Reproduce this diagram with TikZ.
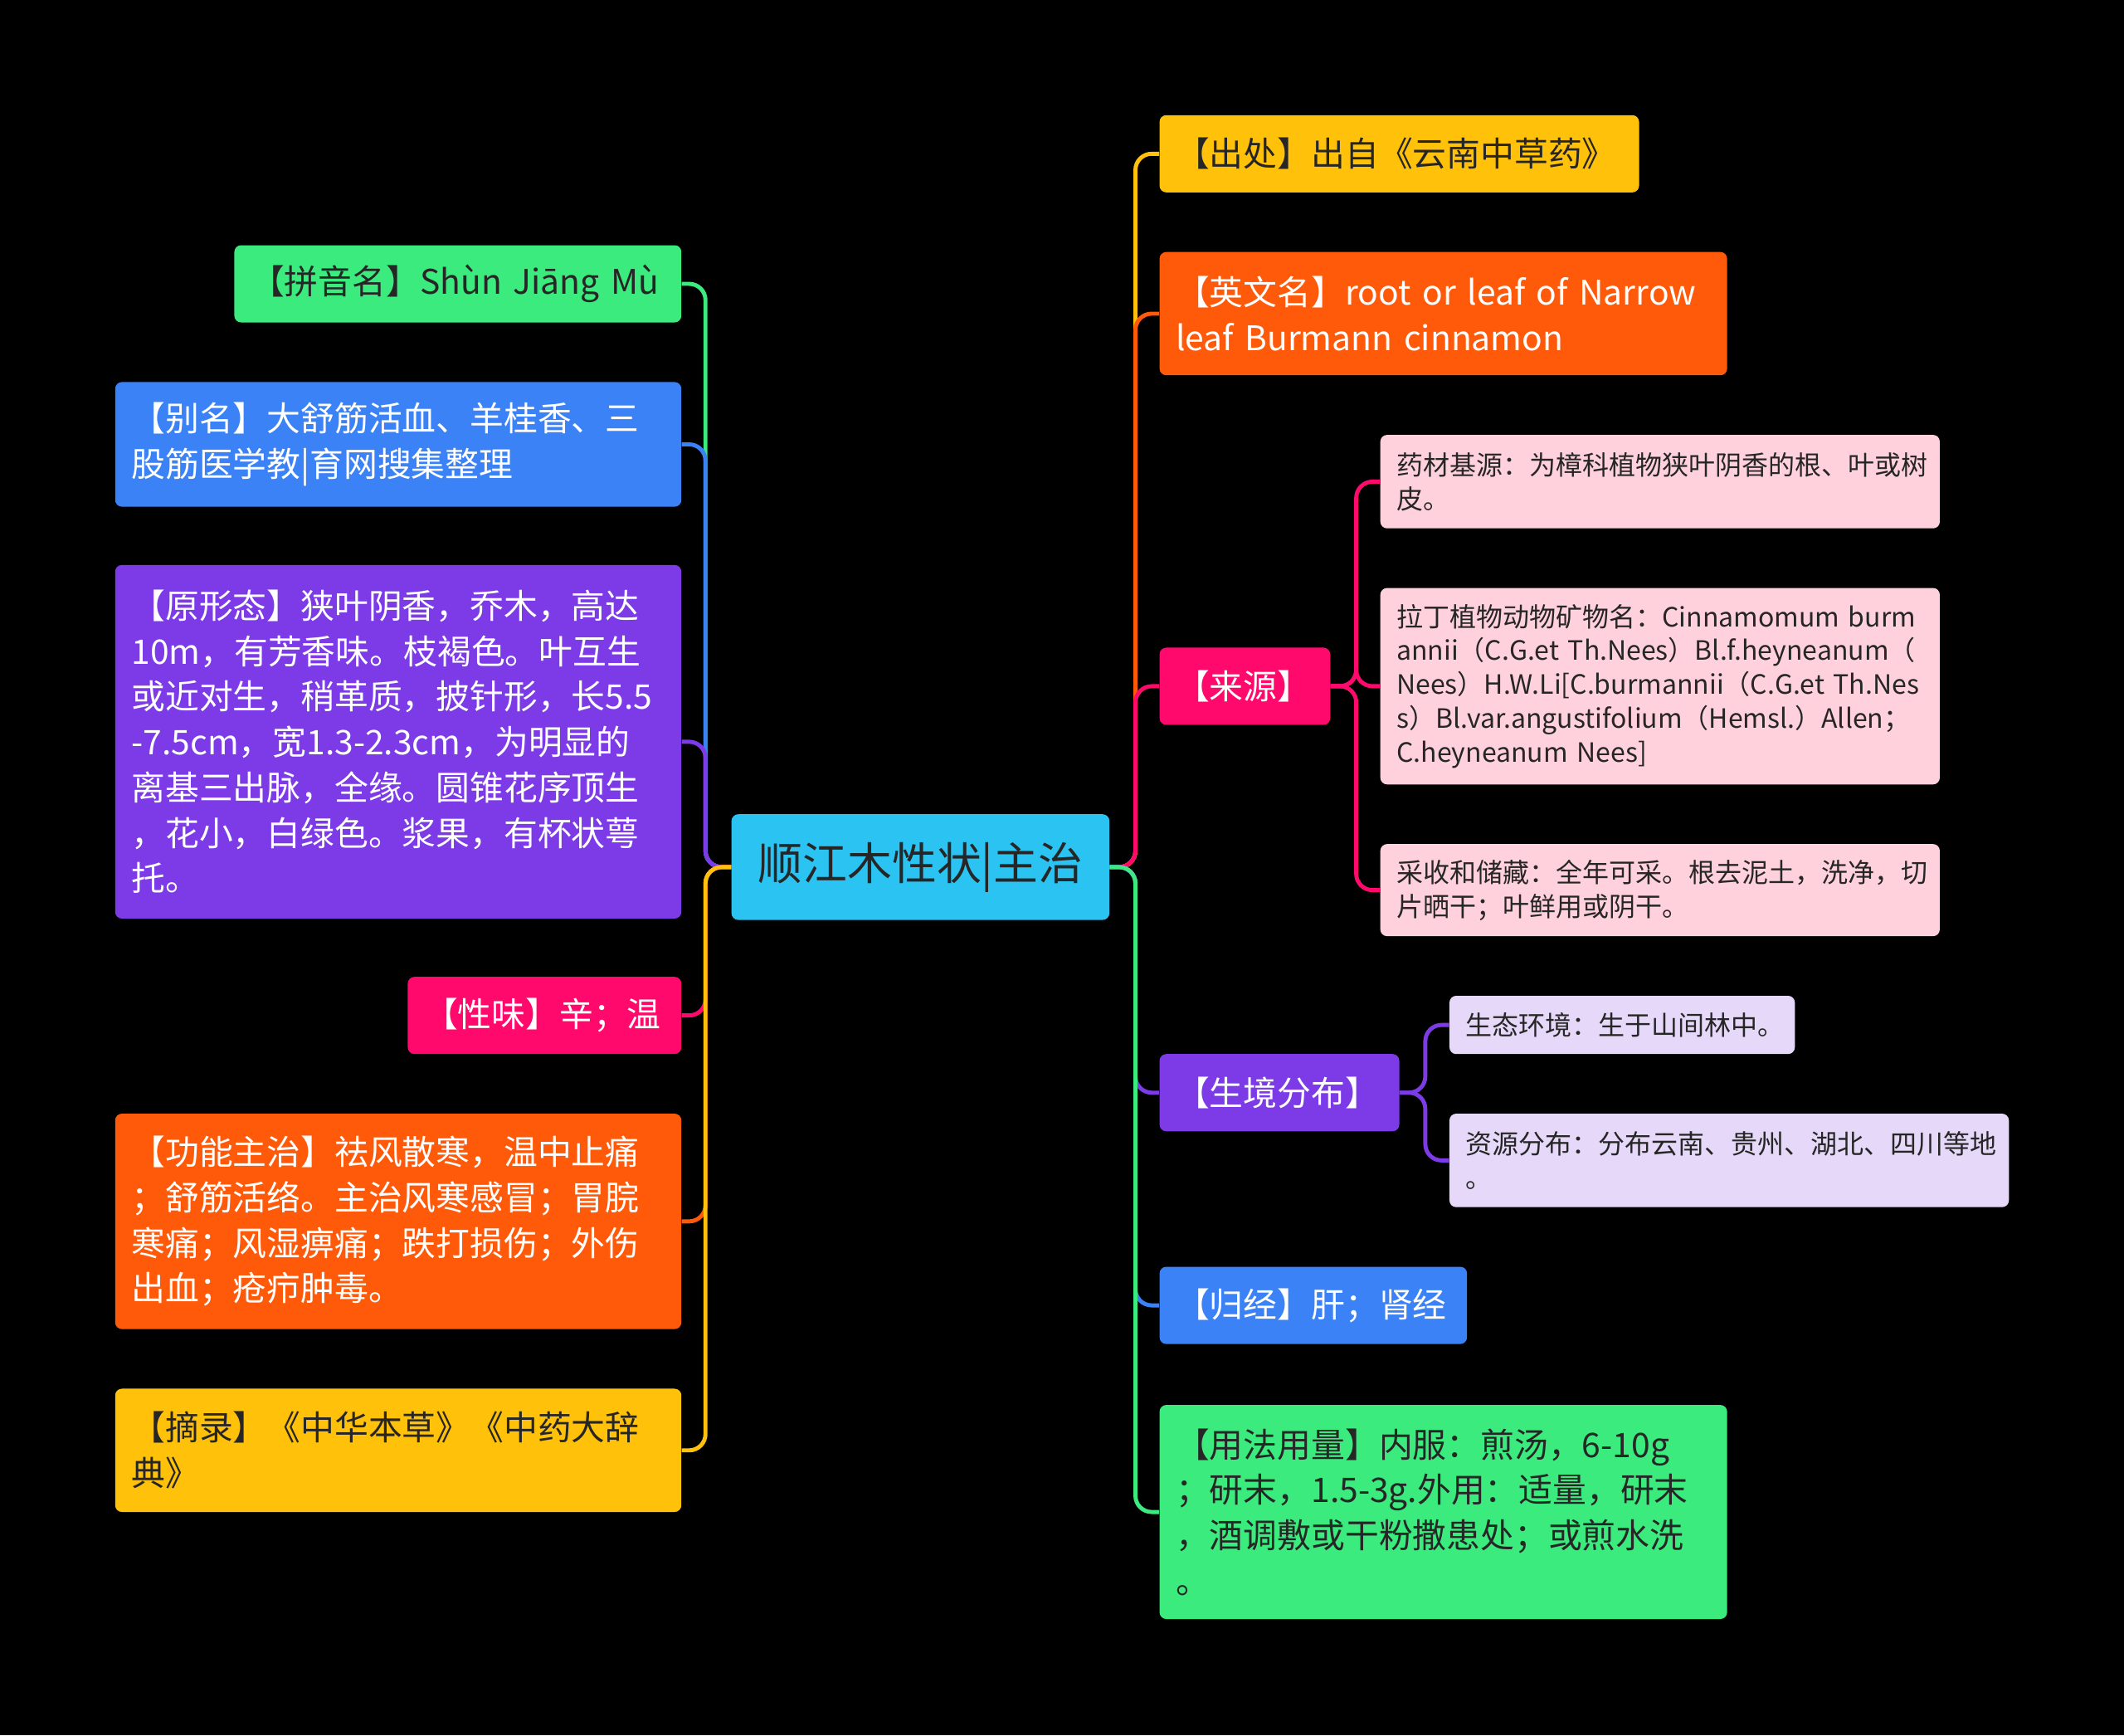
\documentclass[tikz,border=0pt]{standalone}
\usepackage{fontspec}
\setmainfont{Noto Sans CJK SC}
\definecolor{cCyan}{HTML}{2BC4F2}
\definecolor{cGreen}{HTML}{3BEB7E}
\definecolor{cBlue}{HTML}{3B82F6}
\definecolor{cPurple}{HTML}{7D3BE8}
\definecolor{cPink}{HTML}{FF0A6C}
\definecolor{cOrange}{HTML}{FF5A0A}
\definecolor{cAmber}{HTML}{FFC10A}
\definecolor{cLPink}{HTML}{FFD1DC}
\definecolor{cLav}{HTML}{E6D8F8}
\newcommand{\bx}[8]{%
 \pgfmathsetmacro{\bw}{#4-#2}\pgfmathsetmacro{\bh}{#5-#3}\pgfmathsetmacro{\tw}{#4-#2-24}%
 \node[box,fill=#6,text=#7,minimum width=\bw pt,minimum height=\bh pt,text width=\tw pt] (#1) at ({(#2+#4)/2},{-(#3+#5)/2}) {#8};}
\begin{document}
\begin{tikzpicture}[x=1pt,y=1pt,
 box/.style={rounded corners=5pt,inner xsep=12pt,inner ysep=0pt,align=left,font=\fontsize{25}{33.5}\selectfont},
 sm/.style={font=\fontsize{19.6}{25}\selectfont},
 ln/.style={line width=3pt,rounded corners=12pt}]
\fill[black] (0,0) rectangle (1568,-1281);
\useasboundingbox (0,0) rectangle (1568,-1281);
% center
\node[rounded corners=5pt,fill=cCyan,minimum width=279pt,minimum height=78pt,font=\fontsize{33}{40}\selectfont,text=black!85] (c) at (679.5,-640) {顺江木性状|主治};
% left
\bx{a1}{173}{181}{503}{238}{cGreen}{black!85}{【拼音名】Shùn Jiāng Mù}
\bx{a2}{85}{282}{503}{374}{cBlue}{white}{【别名】大舒筋活血、羊桂香、三\\股筋医学教|育网搜集整理}
\bx{a3}{85}{417}{503}{678}{cPurple}{white}{【原形态】狭叶阴香，乔木，高达\\10m，有芳香味。枝褐色。叶互生\\或近对生，稍革质，披针形，长5.5\\-7.5cm，宽1.3-2.3cm，为明显的\\离基三出脉，全缘。圆锥花序顶生\\，花小，白绿色。浆果，有杯状萼\\托。}
\bx{a4}{301}{721}{503}{778}{cPink}{white}{【性味】辛；温}
\bx{a5}{85}{822}{503}{981}{cOrange}{white}{【功能主治】祛风散寒，温中止痛\\；舒筋活络。主治风寒感冒；胃脘\\寒痛；风湿痹痛；跌打损伤；外伤\\出血；疮疖肿毒。}
\bx{a6}{85}{1025}{503}{1116}{cAmber}{black!85}{【摘录】《中华本草》《中药大辞\\典》}
% right
\bx{b1}{856}{85}{1210}{142}{cAmber}{black!85}{【出处】出自《云南中草药》}
\bx{b2}{856}{186}{1275}{277}{cOrange}{white}{【英文名】root or leaf of Narrow\\leaf Burmann cinnamon}
\bx{b3}{856}{478}{982}{535}{cPink}{white}{【来源】}
\bx{b4}{856}{778}{1033}{835}{cPurple}{white}{【生境分布】}
\bx{b5}{856}{935}{1083}{992}{cBlue}{white}{【归经】肝；肾经}
\bx{b6}{856}{1037}{1275}{1195}{cGreen}{black!85}{【用法用量】内服：煎汤，6-10g\\；研末，1.5-3g.外用：适量，研末\\，酒调敷或干粉撒患处；或煎水洗\\。}
% sub
\tikzset{box/.append style={sm}}
\bx{s1}{1019}{321}{1432}{390}{cLPink}{black!85}{药材基源：为樟科植物狭叶阴香的根、叶或树\\皮。}
\bx{s2}{1019}{434}{1432}{579}{cLPink}{black!85}{拉丁植物动物矿物名：Cinnamomum burm\\annii（C.G.et Th.Nees）Bl.f.heyneanum（\\Nees）H.W.Li[C.burmannii（C.G.et Th.Nes\\s）Bl.var.angustifolium（Hemsl.）Allen；\\C.heyneanum Nees]}
\bx{s3}{1019}{623}{1432}{691}{cLPink}{black!85}{采收和储藏：全年可采。根去泥土，洗净，切\\片晒干；叶鲜用或阴干。}
\bx{s4}{1070}{735}{1325}{778}{cLav}{black!85}{生态环境：生于山间林中。}
\bx{s5}{1070}{822}{1483}{891}{cLav}{black!85}{资源分布：分布云南、贵州、湖北、四川等地\\。}
% connectors
\foreach \n/\col in {a1/cGreen,a2/cBlue,a3/cPurple,a4/cPink,a5/cOrange,a6/cAmber}
 \draw[ln,\col] (c.west) -- ++(-19,0) |- (\n.east);
\foreach \n/\col in {b1/cAmber,b2/cOrange,b3/cPink,b4/cPurple,b5/cBlue,b6/cGreen}
 \draw[ln,\col] (c.east) -- ++(19,0) |- (\n.west);
\foreach \n in {s1,s2,s3} \draw[ln,cPink] (b3.east) -- ++(19,0) |- (\n.west);
\foreach \n in {s4,s5} \draw[ln,cPurple] (b4.east) -- ++(19,0) |- (\n.west);
\end{tikzpicture}
\end{document}
